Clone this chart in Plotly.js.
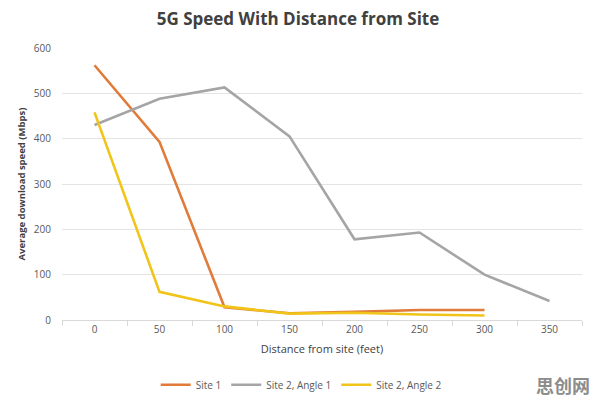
<!DOCTYPE html>
<html>
<head>
<meta charset="utf-8">
<script src="https://cdn.plot.ly/plotly-3.0.1.min.js"></script>
<style>
  html, body { margin: 0; padding: 0; background: #ffffff; }
  #chart { width: 596px; height: 405px; }
</style>
</head>
<body>
<div id="chart"></div>
<script>
// Distance categories (feet) and measured download speeds (Mbps)
const distances = ['0', '50', '100', '150', '200', '250', '300', '350'];
const site1 = [562, 393, 28, 15, 18, 22, 22];
const site2Angle1 = [430, 488, 513, 405, 178, 193, 100, 42];
const site2Angle2 = [458, 62, 30, 14, 16, 12, 10];
const yTicks = [0, 100, 200, 300, 400, 500, 600];

function series(name, values, color) {
  return {
    type: 'scatter',
    mode: 'lines',
    name: name,
    x: distances.slice(0, values.length),
    y: values,
    line: { color: color, width: 2.6 },
    hoverinfo: 'x+y+name'
  };
}

const data = [
  series('Site 1', site1, '#E07B39'),
  series('Site 2, Angle 1', site2Angle1, '#A5A5A5'),
  series('Site 2, Angle 2', site2Angle2, '#F0C419')
];

const layout = {
  width: 596,
  height: 405,
  margin: { l: 62, r: 14, t: 48, b: 85, autoexpand: false },
  paper_bgcolor: '#ffffff',
  plot_bgcolor: '#ffffff',
  font: { family: 'Open Sans, sans-serif', color: '#595959', size: 10 },
  title: {
    text: '<b>5G Speed With Distance from Site</b>',
    font: { family: 'Open Sans, sans-serif', size: 17, color: '#404040' },
    x: 0.5, xanchor: 'center', y: 0.952, yanchor: 'middle'
  },
  xaxis: {
    type: 'category',
    categoryorder: 'array',
    categoryarray: distances,
    range: [-0.5, 7.5],
    showgrid: false,
    zeroline: false,
    showline: true,
    linecolor: '#d9d9d9',
    linewidth: 1,
    ticks: 'outside',
    tickson: 'boundaries',
    ticklen: 5,
    tickcolor: '#d9d9d9',
    tickfont: { size: 10, color: '#595959' },
    title: {
      text: 'Distance from site (feet)',
      font: { size: 11, color: '#404040' },
      standoff: 10
    },
    fixedrange: true
  },
  yaxis: {
    range: [0, 600],
    tickvals: yTicks,
    ticktext: yTicks.map(String),
    showgrid: true,
    gridcolor: '#e4e4e4',
    gridwidth: 1,
    zeroline: false,
    showline: false,
    ticks: '',
    tickfont: { size: 10, color: '#595959' },
    ticklabelstandoff: 10,
    title: {
      text: '<b>Average download speed (Mbps)</b>',
      font: { size: 9.5, color: '#404040' },
      standoff: 6
    },
    fixedrange: true
  },
  showlegend: true,
  legend: {
    orientation: 'h',
    x: 0.46, xanchor: 'center',
    y: -0.238, yanchor: 'middle',
    font: { size: 10, color: '#595959' },
    itemwidth: 30,
    tracegroupgap: 0
  },
  annotations: [
    {
      text: '<b>思创网</b>',
      xref: 'paper', yref: 'paper',
      x: 1.02, xanchor: 'right',
      y: -0.24, yanchor: 'middle',
      showarrow: false,
      font: { family: 'Noto Sans CJK SC, sans-serif', size: 18, color: '#8c8c8c' }
    }
  ]
};

Plotly.newPlot('chart', data, layout, { displayModeBar: false, staticPlot: true });
</script>
</body>
</html>
